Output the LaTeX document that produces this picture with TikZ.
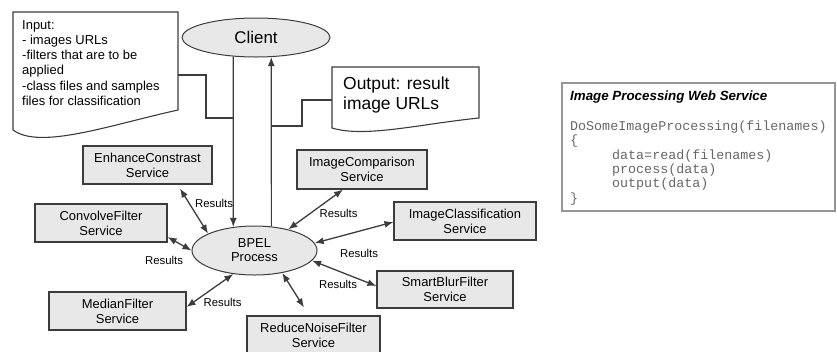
\documentclass[tikz,border=0pt]{standalone}
\usepackage{fontspec}
\setmainfont{Liberation Sans}
\setmonofont{Liberation Mono}
\usetikzlibrary{shapes.geometric,arrows.meta}

\definecolor{boxgray}{RGB}{232,232,232}
\definecolor{linegray}{RGB}{60,60,60}
\definecolor{framegray}{RGB}{150,150,150}

\begin{document}
\begin{tikzpicture}[x=1bp, y=-1bp,
  service/.style={rectangle, draw=linegray, fill=boxgray, line width=1.1bp,
    minimum width=#1, minimum height=38bp, inner sep=0pt, align=center,
    font=\fontsize{13}{15}\selectfont},
  service/.default=130bp,
  proc/.style={ellipse, draw=linegray, fill=boxgray, line width=1bp, inner sep=0pt},
  res/.style={inner sep=0pt, font=\fontsize{11.4}{13}\selectfont},
  doc/.style={draw=linegray, fill=white, line width=1.1bp},
  flow/.style={draw=linegray, line width=1.2bp},
  link/.style={draw=linegray, line width=1.3bp,
    {Latex[length=9bp,width=7bp]}-{Latex[length=9bp,width=7bp]}}]

\useasboundingbox (0,0) rectangle (837,351);
\clip (0,0) rectangle (837,351);

% the two documents
\draw[doc] (13,12) -- (178,12) -- (178,110) .. controls (110,125) and (40,150) .. (13,130) -- cycle;
\node[anchor=north west, inner sep=0pt, align=left, font=\fontsize{13}{15.3}\selectfont] (inp) at (22,20)
  {Input:\\- images URLs\\-filters that are to be\\applied\\-class files and samples\\files for classification};

\draw[doc] (332,67) -- (479,67) -- (479,118) .. controls (420,124) and (365,138) .. (332,128) -- cycle;
\node[anchor=north west, inner sep=0pt, align=left, font=\fontsize{17.5}{20}\selectfont] (outp) at (343,77)
  {Output: result\\image URLs};

\node[proc, minimum width=148bp, minimum height=39bp, font=\fontsize{17}{20}\selectfont] (client) at (256,37.5) {Client};
\node[proc, minimum width=125bp, minimum height=49bp, align=center, font=\fontsize{13}{14}\selectfont] (bpel) at (254.5,250.5) {BPEL\\Process};

\coordinate (inpr) at (178,75);
\coordinate (jin) at (234,118);
\coordinate (outl) at (332,100);
\coordinate (jout) at (271,126);

\draw[flow] (inpr) -- ++(28,0) |- (jin);
\draw[flow] (outl) -- ++(-30,0) |- (jout);
\draw[flow, -{Latex[length=9bp,width=7bp]}] (client.220) -- (bpel.132);
\draw[flow, -{Latex[length=9bp,width=7bp]}] (bpel.55) -- (client.-52);

% services
\node[service=129bp] (enh) at (147.5,165) {EnhanceConstrast\\Service};
\node[service=132bp] (conv) at (101,223) {ConvolveFilter\\Service};
\node[service=137bp] (med) at (117.5,311) {MedianFilter\\Service};
\node[service=130bp, minimum height=39bp] (cmp) at (362,169.5) {ImageComparison\\Service};
\node[service=142bp] (cls) at (465,221) {ImageClassification\\Service};
\node[service=136bp, minimum height=37bp] (blur) at (445,289.5) {SmartBlurFilter\\Service};
\node[service=133bp] (red) at (313.5,335) {ReduceNoiseFilter\\Service};

\draw[link] ([xshift=32.5bp,yshift=-4bp]enh.south) -- (bpel.160);
\draw[link] ([yshift=-14bp]conv.east) -- (bpel.west);
\draw[link] ([yshift=4bp]med.east) -- (bpel.228);
\draw[link] ([xshift=-19bp]cmp.south) -- (bpel.32);
\draw[link] ([yshift=-1bp]cls.west) -- (bpel.7);
\draw[link] ([yshift=3.5bp]blur.west) -- (bpel.-10);
\draw[link] ([xshift=-9.5bp,yshift=8bp]red.north) -- (bpel.-39);

\node[res] (renh) at (214,203.5) {Results};
\node[res] (rconv) at (164,260.5) {Results};
\node[res] (rmed) at (222.5,302.5) {Results};
\node[res] (rcmp) at (338.5,213.5) {Results};
\node[res] (rcls) at (359,253.5) {Results};
\node[res] (rblur) at (338,284) {Results};

% web service listing
\node[rectangle, draw=framegray, line width=1.4bp, minimum width=273bp, minimum height=128bp, inner sep=0pt] (ws) at (698.5,147) {};
\node[anchor=north west, inner sep=0pt, font=\fontsize{13.4}{15}\selectfont\bfseries\itshape] (wstitle) at (570,91)
  {Image Processing Web Service};
\node[anchor=north west, inner sep=0pt, align=left, text=black!60, font=\ttfamily\fontsize{13.4}{14.4}\selectfont] (wscode) at (570,120.5)
  {DoSomeImageProcessing(filenames)\\\{\\\hspace*{42bp}data=read(filenames)\\\hspace*{42bp}process(data)\\\hspace*{42bp}output(data)\\\}};

\end{tikzpicture}
\end{document}
